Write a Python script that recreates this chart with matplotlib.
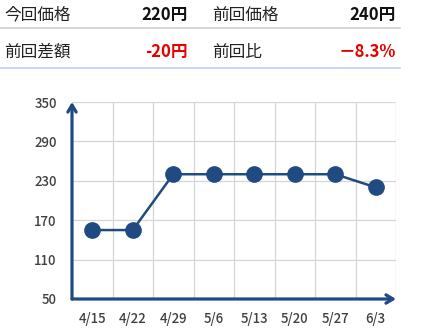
import matplotlib
matplotlib.use("Agg")
import matplotlib.pyplot as plt
from matplotlib.ticker import FixedLocator

plt.rcParams['font.family'] = ['Noto Sans CJK JP', 'DejaVu Sans']

dates = ["4/15", "4/22", "4/29", "5/6", "5/13", "5/20", "5/27", "6/3"]
prices = [155, 155, 240, 240, 240, 240, 240, 220]
yticks = [50, 110, 170, 230, 290, 350]

header_rows = [
    [("今回価格", "220円", "#111111"), ("前回価格", "240円", "#111111")],
    [("前回差額", "-20円", "#e60000"), ("前回比", "－8.3%", "#e60000")],
]

navy = "#1f4b82"

fig = plt.figure(figsize=(4.28, 3.34), dpi=100)
W, H = 428, 334

# header
row_y = [15, 52]
line_y = [28, 68]
line_cols = ["#d0d0d0", "#bcd3ee"]
for r, row in enumerate(header_rows):
    for c, (lab, val, col) in enumerate(row):
        x0 = 4 if c == 0 else 212
        x1 = 188 if c == 0 else 396
        fig.text(x0 / W, 1 - row_y[r] / H, lab, fontsize=12, color="#222222",
                 ha="left", va="center")
        fig.text(x1 / W, 1 - row_y[r] / H, val, fontsize=12, color=col,
                 ha="right", va="center", fontweight="bold")
    fig.add_artist(plt.Line2D([0, 400 / W], [1 - line_y[r] / H] * 2,
                              color=line_cols[r], lw=1.2))

ax = fig.add_axes([72 / W, 35 / H, 324 / W, 197 / H])
x = [i + 0.5 for i in range(len(dates))]
ax.plot(x, prices, color=navy, lw=1.8, marker="o", markersize=11,
        zorder=5, clip_on=False)
ax.set_xlim(0, len(dates))
ax.set_ylim(50, 350)
ax.set_xticks(x)
ax.set_xticklabels(dates)
ax.set_yticks(yticks)
ax.xaxis.set_minor_locator(FixedLocator(list(range(1, len(dates) + 1))))
ax.grid(which="minor", axis="x", color="#d5d5d5", lw=0.9)
ax.grid(which="major", axis="y", color="#d5d5d5", lw=0.9)
ax.tick_params(which="both", length=0)
ax.tick_params(axis="x", pad=9, labelsize=9.5, labelcolor="#404040")
ax.tick_params(axis="y", pad=11, labelsize=9.5, labelcolor="#404040")
for lab in ax.get_xticklabels() + ax.get_yticklabels():
    lab.set_fontweight("medium")
for s in ax.spines.values():
    s.set_visible(False)

ax.annotate("", xy=(0, 1.0), xytext=(0, 0), xycoords="axes fraction",
            arrowprops=dict(arrowstyle="->,head_length=0.5,head_width=0.3",
                            color=navy, lw=2.3, shrinkA=0, shrinkB=0))
ax.annotate("", xy=(1.0, 0), xytext=(0, 0), xycoords="axes fraction",
            arrowprops=dict(arrowstyle="->,head_length=0.5,head_width=0.3",
                            color=navy, lw=2.3, shrinkA=0, shrinkB=0))

fig.savefig("out.png", dpi=100)
